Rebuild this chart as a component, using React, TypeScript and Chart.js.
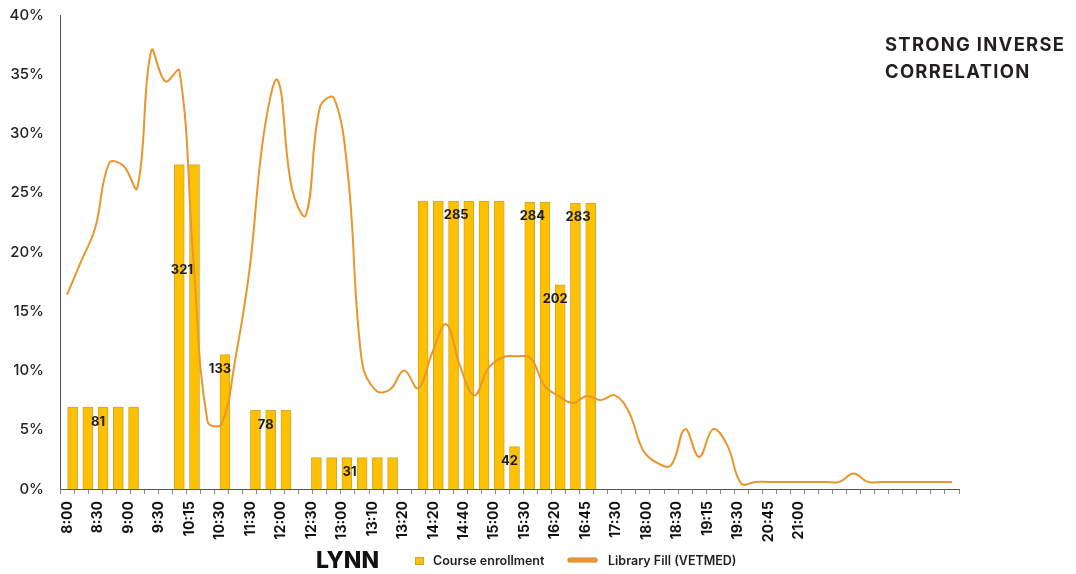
import React, { useEffect, useRef } from 'react';
import { Chart, registerables } from 'chart.js';

Chart.register(...registerables);

// Category axis for the enrollment bars (59 slots, every other slot labelled)
const timeLabels: string[] = [
  '8:00', '', '8:30', '', '9:00', '', '9:30', '', '10:15', '', '10:30', '', '11:30', '', '12:00', '',
  '12:30', '', '13:00', '', '13:10', '', '13:20', '', '14:20', '', '14:40', '', '15:00', '', '15:30', '',
  '16:20', '', '16:45', '', '17:30', '', '18:00', '', '18:30', '', '19:15', '', '19:30', '', '20:45', '',
  '21:00', '', '', '', '', '', '', '', '', '', '',
];

// Course enrollment (students) per slot
const courseEnrollment: (number | null)[] = [
  81, 81, 81, 81, 81, null, null, 321, 321, null, 133, null, 78, 78, 78, null,
  31, 31, 31, 31, 31, 31, null, 285, 285, 285, 285, 285, 285, 42, 284, 284,
  202, 283, 283, null, null, null, null, null, null, null, null, null, null, null, null, null,
  null, null, null, null, null, null, null, null, null, null, null,
];

// Library fill (VETMED), percent, 64 readings
const libraryFill: number[] = [
  16.4, 19.2, 22.0, 27.5, 27.3, 25.4, 37.0, 34.4, 35.3, 19.3,
  5.7, 5.5, 11.1, 18.6, 29.9, 34.5, 25.4, 23.1, 32.2, 33.0,
  26.5, 10.7, 8.3, 8.4, 10.0, 8.5, 11.5, 13.9, 10.3, 7.9,
  10.2, 11.1, 11.2, 11.05, 8.7, 7.85, 7.25, 7.85, 7.5, 7.9,
  6.5, 3.3, 2.2, 2.0, 5.05, 2.7, 5.05, 3.7, 0.45, 0.6,
  0.6, 0.6, 0.6, 0.6, 0.6, 0.6, 1.3, 0.6, 0.6, 0.6,
  0.6, 0.6, 0.6, 0.6,
];
const fillSlots: string[] = libraryFill.map((_, i) => String(i));

const yTicks = [0, 5, 10, 15, 20, 25, 30, 35, 40];

const BAR_COLOR = '#FFC000';
const BAR_BORDER = '#CDA633';
const LINE_COLOR = '#E8962E';
const FONT = 'Inter, "Noto Sans", sans-serif';

const barValueLabels = {
  id: 'barValueLabels',
  afterDatasetsDraw(chart: any, _args: any, opts: any) {
    const xs = chart.scales.x;
    const ys = chart.scales.yc;
    const c = chart.ctx;
    c.save();
    c.font = `700 13px ${FONT}`;
    c.fillStyle = '#1c1c1c';
    c.textAlign = 'center';
    c.textBaseline = 'middle';
    let i = 0;
    let g = 0;
    const vals = courseEnrollment;
    while (i < vals.length) {
      const v = vals[i];
      if (v == null) { i++; continue; }
      let j = i;
      while (j + 1 < vals.length && vals[j + 1] === v) j++;
      const mid = (i + j) / 2;
      const drop = opts.drops && opts.drops[g] != null ? opts.drops[g] : opts.drop;
      c.fillText(String(v), xs.getPixelForValue(mid), ys.getPixelForValue(v) + drop);
      g++;
      i = j + 1;
    }
    c.restore();
  },
};

export default function App() {
  const ref = useRef<HTMLCanvasElement>(null);

  useEffect(() => {
    document.body.style.margin = '0';
    Chart.defaults.font.family = FONT;
    const chart = new Chart(ref.current as HTMLCanvasElement, {
      data: {
        labels: timeLabels,
        datasets: [
          {
            type: 'line',
            label: 'Library Fill (VETMED)',
            data: libraryFill,
            xAxisID: 'xl',
            yAxisID: 'y',
            borderColor: LINE_COLOR,
            borderWidth: 2,
            pointRadius: 0,
            tension: 0.4,
            order: 0,
          } as any,
          {
            type: 'bar',
            label: 'Course enrollment',
            data: courseEnrollment,
            xAxisID: 'x',
            yAxisID: 'yc',
            backgroundColor: BAR_COLOR,
            borderColor: BAR_BORDER,
            borderWidth: 1,
            barThickness: 10,
            order: 1,
          } as any,
        ],
      },
      options: {
        responsive: false,
        animation: false,
        layout: { padding: { left: 0, right: 117, top: 15, bottom: 0 } },
        plugins: {
          legend: { display: false },
          tooltip: { enabled: false },
          barValueLabels: { drop: 14.5, drops: { 1: 106 } },
        } as any,
        scales: {
          xl: {
            type: 'category',
            labels: fillSlots,
            position: 'bottom',
            offset: true,
            weight: 0,
            grid: { display: true, drawOnChartArea: false, drawTicks: true, tickLength: 5, color: '#8a8a8a', offset: true },
            border: { display: true, color: '#555', width: 1 },
            ticks: { display: false },
          },
          x: {
            type: 'category',
            position: 'bottom',
            offset: true,
            weight: 1,
            grid: { display: false, drawTicks: false },
            border: { display: false },
            ticks: {
              autoSkip: false,
              maxRotation: 90,
              minRotation: 90,
              padding: 7,
              color: '#111',
              font: { size: 14, weight: 'bold' },
            },
            afterFit: (s: any) => { s.height = 80; },
          },
          y: {
            position: 'left',
            min: 0,
            max: 40,
            grid: { display: false, drawTicks: false },
            border: { display: true, color: '#555', width: 1 },
            afterBuildTicks: (s: any) => { s.ticks = yTicks.map((v) => ({ value: v })); },
            ticks: { padding: 16, color: '#222', font: { size: 15, weight: 500 }, callback: (v: any) => `${v}%` },
            afterFit: (s: any) => { s.width = 60; s.paddingTop = 0; s.paddingBottom = 0; },
          },
          yc: { display: false, min: 0, max: 469 },
        } as any,
      },
      plugins: [barValueLabels],
    } as any);
    return () => chart.destroy();
  }, []);

  const center = (top: number): React.CSSProperties => ({
    position: 'absolute',
    top,
    transform: 'translateY(-50%)',
    lineHeight: 1,
    whiteSpace: 'nowrap',
  });

  return (
    <div style={{ position: 'relative', width: 1076, height: 574, fontFamily: FONT, color: '#1e1e1e' }}>
      <canvas ref={ref} width={1076} height={574} style={{ display: 'block' }} />
      <div style={{ position: 'absolute', left: 885, top: 31, fontSize: 18.4, lineHeight: '26.6px', fontWeight: 700, letterSpacing: '1.3px', whiteSpace: 'nowrap', color: '#231f20' }}>
        STRONG INVERSE<br />CORRELATION
      </div>
      <div style={{ ...center(560), left: 316, fontSize: 23, fontWeight: 800, color: '#111' }}>LYNN</div>
      <div style={{ position: 'absolute', left: 415, top: 556.5, width: 8.5, height: 8.5, boxSizing: 'border-box', background: BAR_COLOR, border: `1px solid ${BAR_BORDER}` }} />
      <div style={{ ...center(561), left: 433, fontSize: 12.5, fontWeight: 600 }}>Course enrollment</div>
      <div style={{ position: 'absolute', left: 568, top: 558, width: 29, height: 4, borderRadius: 2, background: LINE_COLOR, boxShadow: '0 0 0 0.6px #C77F2A' }} />
      <div style={{ ...center(561), left: 608, fontSize: 12.5, fontWeight: 600 }}>Library Fill (VETMED)</div>
    </div>
  );
}
